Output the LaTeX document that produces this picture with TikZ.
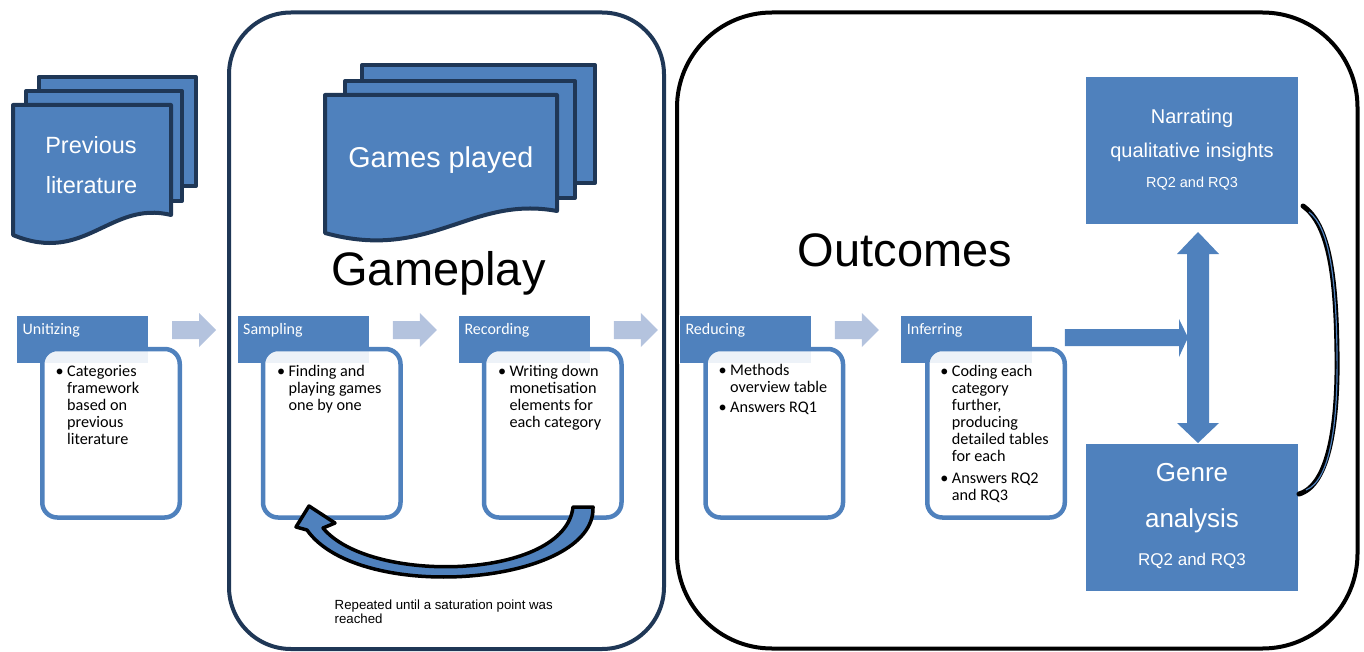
\documentclass[tikz,border=0pt]{standalone}
\usepackage{fontspec}
\setmainfont{Liberation Sans}
\newfontfamily\calfont{Carlito}
\usetikzlibrary{calc}
\definecolor{mblue}{HTML}{4F81BD}
\definecolor{navy}{HTML}{1F3756}
\definecolor{lblue}{HTML}{B4C3DE}
\newcommand\bulletlines[5]{%
  \node[bultxt] (#1b) at ({#2-11.5},#3) {\textbullet};
  \foreach \t [count=\i from 0] in {#4} {\node[bultxt] (#1\i) at (#2,{#3+17*\i}) {\t};}
}
\begin{document}
\begin{tikzpicture}[x=1pt,y=-1pt,
  hdr/.style={fill=mblue, draw=white, line width=0.6pt, minimum width=132pt, minimum height=48pt, anchor=north west, inner sep=0pt, outer sep=0pt},
  bodybox/.style={fill=white, fill opacity=0.9, draw=mblue, draw opacity=1, line width=4.5pt, rounded corners=15pt, minimum width=137.5pt, minimum height=168.5pt, anchor=north west, inner sep=0pt, outer sep=0pt},
  hdrlbl/.style={font=\calfont\fontsize{16}{17}\selectfont, text=white, anchor=base west, inner sep=0pt},
  bultxt/.style={font=\calfont\fontsize{16.2}{17}\selectfont, anchor=base west, inner sep=0pt},
  docsheet/.style={fill=mblue, draw=navy, line width=4pt, line join=round},
  bigtxt/.style={font=\fontsize{47}{50}\selectfont, inner sep=0pt, anchor=base},
  doctxt/.style={text=white, inner sep=0pt, anchor=base},
  outtxt/.style={text=white, inner sep=0pt, anchor=base},
  outbox/.style={fill=mblue, draw=none, minimum width=212pt, minimum height=147pt, anchor=north west, inner sep=0pt, outer sep=0pt},
  lightarr/.style={fill=lblue},
  bigarr/.style={fill=mblue}
]
\useasboundingbox (0,0) rectangle (1364,652);

% containers
\draw[navy, line width=4pt, rounded corners=62pt] (229,12.5) rectangle (664,649);
\draw[black, line width=4pt, rounded corners=95pt] (677,12.5) rectangle (1357.5,648.5);

% Previous literature documents
\draw[docsheet] (38.5,77) rectangle (196,186);
\draw[docsheet] (26,91) rectangle (182,201);
\draw[docsheet] (13,105) -- (171,105) -- (171,215) .. controls (110,200) and (85,265) .. (13,235) -- cycle;
\node[doctxt, font=\fontsize{23.5}{25}\selectfont] (prev1) at (91,153.3) {Previous};
\node[doctxt, font=\fontsize{23.5}{25}\selectfont] (prev2) at (91.5,193.3) {literature};

% Games played documents
\draw[docsheet] (362,65) rectangle (595,183);
\draw[docsheet] (345,81) rectangle (575,198);
\draw[docsheet] (325,95) -- (557,95) -- (557,211) .. controls (470,195) and (430,262) .. (325,233) -- cycle;
\node[doctxt, font=\fontsize{28.7}{30}\selectfont] (games) at (440.8,167.2) {Games played};

% titles
\node[bigtxt] (gameplay) at (438.5,285) {Gameplay};
\node[bigtxt] (outcomes) at (905,266) {Outcomes};

% process headers
\node[hdr] (unitH) at (16.7,315) {};
\node[hdr] (sampH) at (237.3,315) {};
\node[hdr] (recH) at (458.3,315) {};
\node[hdr] (redH) at (679.3,315) {};
\node[hdr] (infH) at (900.7,315) {};
\node[hdrlbl] (unitL) at (22.5,334.3) {Unitizing};
\node[hdrlbl] (sampL) at (243,334.3) {Sampling};
\node[hdrlbl] (recL) at (464.3,334.3) {Recording};
\node[hdrlbl] (redL) at (685.3,334.3) {Reducing};
\node[hdrlbl] (infL) at (906.7,334.3) {Inferring};

% body boxes
\node[bodybox] (unitB) at (42.25,349) {};
\node[bodybox] (sampB) at (263,349) {};
\node[bodybox] (recB) at (484,349) {};
\node[bodybox] (redB) at (705.5,349) {};
\node[bodybox] (infB) at (927.25,349) {};

% bullet texts
\bulletlines{u}{67}{376}{Categories,framework,based on,previous,literature}{}
\bulletlines{s}{288.3}{376}{Finding and,playing games,one by one}{}
\bulletlines{r}{509.3}{376}{Writing down,monetisation,elements for,each category}{}
\bulletlines{d}{730}{375.7}{Methods,overview table}{}
\bulletlines{dd}{730}{412.7}{Answers RQ1}{}
\bulletlines{i}{951.7}{376}{Coding each,category,{further,},producing,detailed tables,for each}{}
\bulletlines{ii}{951.7}{483.3}{Answers RQ2,and RQ3}{}

% light arrows between stages
\foreach \h in {unitH,sampH,recH,redH}{
  \fill[lightarr] ($(\h.north east)+(23.5,6)$) -- ++(27,0) -- ++(0,-8) -- ++(17,17) -- ++(-17,17) -- ++(0,-8) -- ++(-27,0) -- cycle;
}

% outcome boxes
\node[outbox] (narr) at (1086,77) {};
\node[outbox] (genre) at (1086,444) {};
\node[outtxt, font=\fontsize{20}{22}\selectfont] (narr1) at (1192,124) {Narrating};
\node[outtxt, font=\fontsize{20}{22}\selectfont] (narr2) at (1192,157.6) {qualitative insights};
\node[outtxt, font=\fontsize{14.5}{16}\selectfont] (narr3) at (1192,187.6) {RQ2 and RQ3};
\node[outtxt, font=\fontsize{26}{28}\selectfont] (genre1) at (1192,481.4) {Genre};
\node[outtxt, font=\fontsize{26}{28}\selectfont] (genre2) at (1192,527.2) {analysis};
\node[outtxt, font=\fontsize{17}{19}\selectfont] (genre3) at (1192,565.2) {RQ2 and RQ3};

% big arrows
\coordinate (hj) at (1188,337.5);
\fill[bigarr] (infB.east |- 0,329) -- (1179,329) -- (1179,319) -- (hj) -- (1179,357) -- (1179,346) -- (infB.east |- 0,346) -- cycle;
\fill[bigarr] (1187,254) -- (1177,254) -- (1198,232) -- (1219,254) -- (1209,254) -- (1209,423) -- (1219,423) -- (1198,443) -- (1177,423) -- (1187,423) -- cycle;

% loop arrow in gameplay
\draw[fill=mblue, draw=black, line width=3.5pt, line join=round]
  (593,507) .. controls (596,585) and (360,605) .. (307,530) -- (296,527) -- (309,506) -- (335,523) -- (323,528)
  .. controls (370,585) and (565,580) .. (573,507) -- cycle;
\node[font=\fontsize{13.25}{15}\selectfont, anchor=base west, inner sep=0pt] (rep1) at (334.5,609.3) {Repeated until a saturation point was};
\node[font=\fontsize{13.25}{15}\selectfont, anchor=base west, inner sep=0pt] (rep2) at (334.5,623.3) {reached};

% right curved arrow
\draw[black, line width=5pt, line cap=round, line join=round] (1299,494) .. controls (1330,485) and (1338,420) .. (1337,353) .. controls (1336,280) and (1330,225) .. (1303,206);
\draw[mblue, line width=1.2pt] (1306,490) .. controls (1331,480) and (1338,420) .. (1337,353) .. controls (1336,280) and (1330,228) .. (1309,212);
\end{tikzpicture}
\end{document}
